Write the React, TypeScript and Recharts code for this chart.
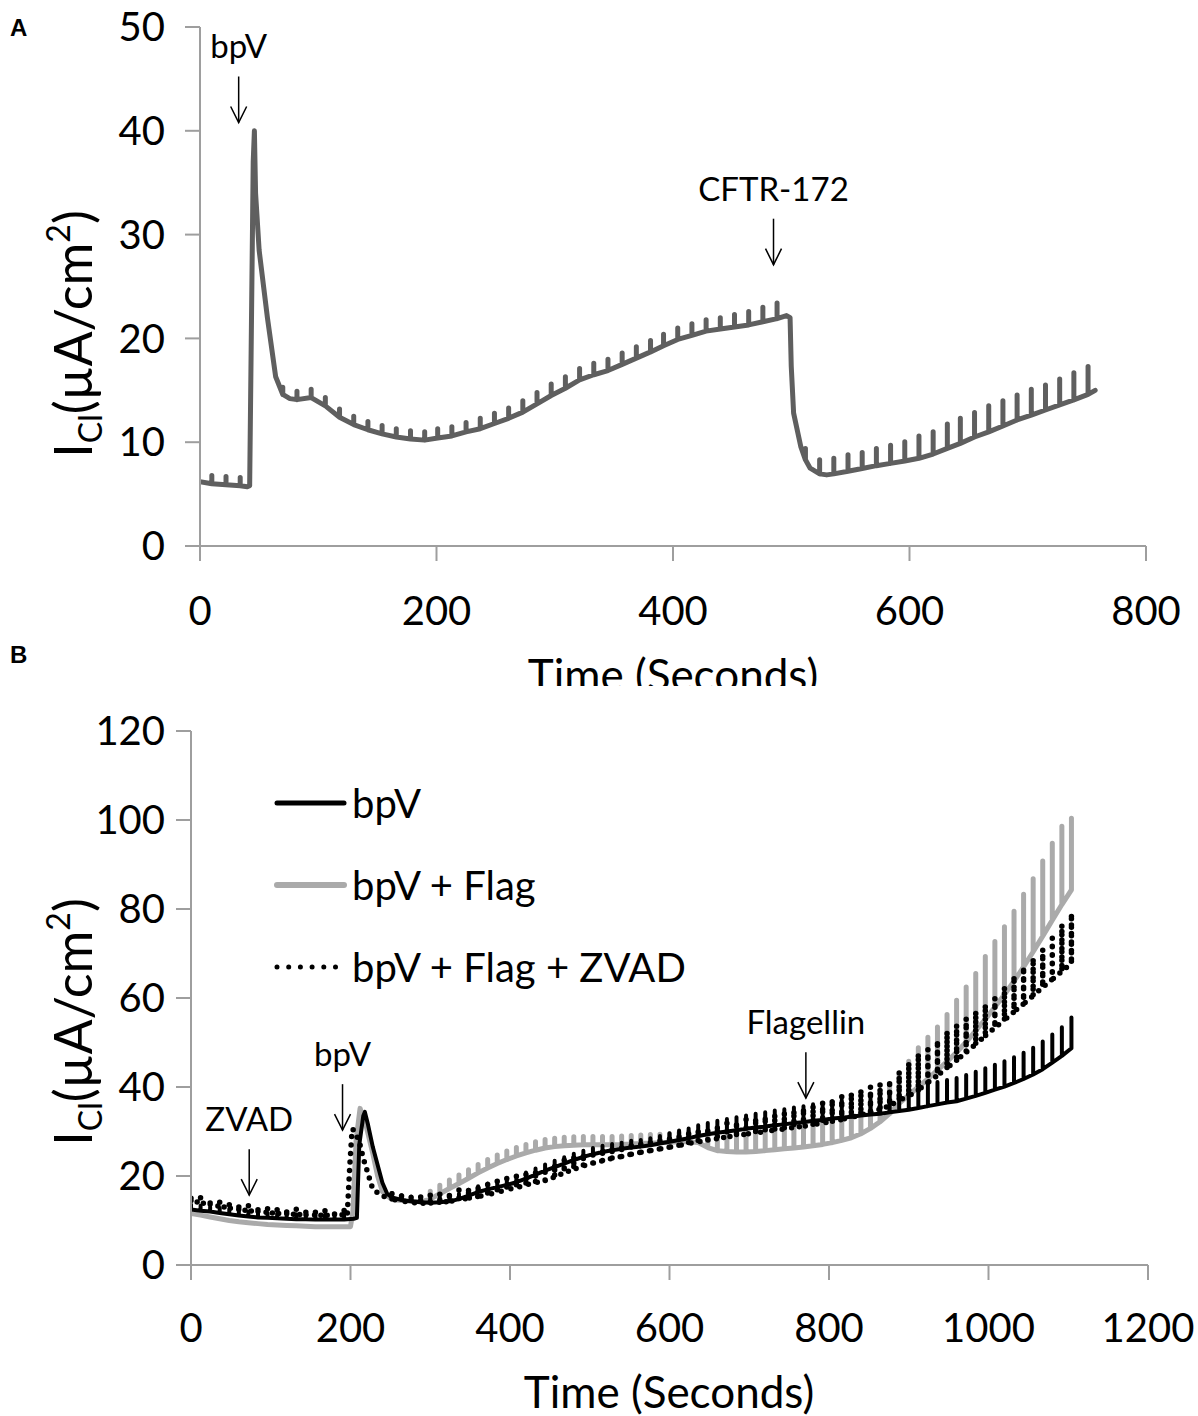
import React from "react";
import { Label, Legend, Line, LineChart, ReferenceDot, XAxis, YAxis } from "recharts";

const FONT = "Lato, 'Open Sans', sans-serif";
const AXIS = "#9e9e9e";

// ---- Panel A: single trace, spikes are the periodic voltage pulses ----
const timeA = [
  0, 10, 22, 34, 40, 42, 45, 46, 47, 50,
  57, 64, 70, 76, 82, 94, 106, 118, 130, 142,
  154, 166, 178, 190, 201, 213, 225, 237, 249, 261,
  273, 285, 297, 309, 321, 333, 345, 357, 369, 381,
  392, 404, 416, 428, 440, 452, 464, 476, 488, 496,
  499, 500, 502, 508, 512, 516, 524, 530, 536, 548,
  560, 572, 584, 596, 608, 620, 632, 643, 655, 667,
  679, 691, 703, 715, 727, 739, 751, 757,
];
const baseA = [
  6.2, 6.0, 5.9, 5.8, 5.7, 5.8, 37, 40, 34, 28.5,
  22, 16.3, 14.6, 14.2, 14.1, 14.3, 13.5, 12.4, 11.7, 11.2,
  10.8, 10.5, 10.3, 10.2, 10.4, 10.6, 11.0, 11.3, 11.8, 12.3,
  12.9, 13.7, 14.5, 15.2, 16.0, 16.5, 16.9, 17.5, 18.1, 18.7,
  19.3, 19.9, 20.3, 20.7, 20.9, 21.1, 21.3, 21.6, 21.9, 22.2,
  22.0, 17.3, 12.8, 9.6, 8.3, 7.5, 6.95, 6.85, 6.95, 7.2,
  7.47, 7.74, 7.96, 8.19, 8.45, 8.86, 9.41, 9.89, 10.5, 11.0,
  11.56, 12.14, 12.6, 13.1, 13.6, 14.07, 14.6, 15.0,
];
const topA = [
  null, 6.8, 6.7, 6.6, null, null, null, null, null, null,
  null, null, 15.3, null, 14.9, 15.1, 14.3, 13.2, 12.5, 12.0,
  11.6, 11.3, 11.1, 11.0, 11.3, 11.5, 11.9, 12.3, 12.8, 13.3,
  14.0, 14.8, 15.6, 16.3, 17.1, 17.6, 18.0, 18.6, 19.2, 19.8,
  20.4, 21.0, 21.4, 21.8, 22.0, 22.3, 22.6, 23.0, 23.4, null,
  null, null, null, null, 9.4, null, 8.3, null, 8.45, 8.8,
  9.0, 9.4, 9.7, 10.05, 10.6, 11.0, 11.75, 12.3, 12.85, 13.5,
  14.0, 14.55, 15.1, 15.5, 16.1, 16.7, 17.3, null,
];
const ticksAX = [0, 200, 400, 600, 800];
const ticksAY = [0, 10, 20, 30, 40, 50];

// ---- Panel B: three traces sampled at the pulse times ----
const timeB = [
  0, 12, 24, 36, 48, 60, 72, 84, 96, 108,
  120, 132, 144, 156, 168, 180, 192, 204, 216, 228,
  240, 252, 264, 276, 288, 300, 312, 324, 336, 348,
  360, 372, 384, 396, 408, 420, 432, 444, 456, 468,
  480, 492, 504, 516, 528, 540, 552, 564, 576, 588,
  600, 612, 624, 636, 648, 660, 672, 684, 696, 708,
  720, 732, 744, 756, 768, 780, 792, 804, 816, 828,
  840, 852, 864, 876, 888, 900, 912, 924, 936, 948,
  960, 972, 984, 996, 1008, 1020, 1032, 1044, 1056, 1068,
  1080, 1092, 1104,
];

const bpvBase = [
  12.5, 12.2, 12.0, 11.7, 11.4, 11.1, 10.9, 10.7, 10.6, 10.5,
  10.4, 10.3, 10.3, 10.2, 10.2, 10.2, 10.2, 10.4, 33.5, 26.5,
  18.5, 15.2, 14.6, 14.3, 14.1, 14.0, 14.1, 14.3, 14.8, 15.6,
  16.4, 17.0, 17.5, 18.0, 18.6, 19.4, 20.3, 21.2, 22.0, 22.8,
  23.6, 24.3, 24.9, 25.4, 25.8, 26.1, 26.4, 26.6, 26.9, 27.3,
  27.7, 28.1, 28.5, 29.0, 29.4, 29.7, 30.0, 30.3, 30.6, 30.9,
  31.1, 31.4, 31.6, 31.9, 32.1, 32.4, 32.6, 32.9, 33.1, 33.3,
  33.6, 33.8, 34.0, 34.3, 34.6, 34.9, 35.3, 35.7, 36.1, 36.5,
  36.8, 37.4, 38.0, 38.7, 39.4, 40.1, 40.9, 41.8, 42.8, 44.0,
  45.5, 47.0, 48.7,
];
const bpvTop = [
  13.6, 13.3, 13.1, 12.8, 12.5, 12.2, 12.0, 11.8, 11.7, 11.6,
  11.5, 11.4, 11.4, 11.3, 11.3, 11.3, 11.3, null, null, null,
  null, 16.2, 15.7, 15.4, 15.2, 15.1, 15.3, 15.5, 16.0, 16.9,
  17.7, 18.3, 18.8, 19.3, 19.9, 20.8, 21.7, 22.6, 23.4, 24.2,
  25.0, 25.7, 26.3, 26.8, 27.2, 27.5, 27.9, 28.1, 28.5, 29.0,
  29.6, 30.2, 30.7, 31.4, 31.9, 32.4, 32.8, 33.2, 33.6, 34.0,
  34.3, 34.7, 35.0, 35.4, 35.7, 36.1, 36.4, 36.8, 37.1, 37.4,
  37.8, 38.1, 38.4, 38.8, 39.2, 39.6, 40.1, 40.6, 41.1, 41.6,
  42.0, 42.7, 43.4, 44.2, 45.0, 45.8, 46.7, 47.7, 48.8, 50.2,
  51.8, 53.4, 55.6,
];
const bpvPeakT = [208, 211, 218, 222, 246];
const bpvPeakV = [10.6, 27, 34.4, 31.5, 16.0];

const flagBase = [
  11.6, 11.2, 10.8, 10.4, 10.0, 9.7, 9.5, 9.3, 9.1, 9.0,
  8.9, 8.8, 8.7, 8.6, 8.6, 8.6, 8.6, 16.0, 33.0, 25.0,
  16.5, 14.7, 14.5, 14.3, 14.2, 14.8, 16.0, 17.2, 18.3, 19.5,
  20.7, 21.8, 22.8, 23.7, 24.5, 25.2, 25.8, 26.3, 26.6, 26.8,
  26.9, 27.0, 27.0, 27.0, 27.0, 27.1, 27.2, 27.3, 27.4, 27.5,
  27.6, 27.7, 27.7, 27.5, 26.4, 25.7, 25.5, 25.4, 25.4, 25.5,
  25.7, 25.9, 26.1, 26.3, 26.5, 26.8, 27.1, 27.5, 28.0, 28.6,
  29.5, 30.7, 32.2, 34.0, 36.3, 38.2, 40.0, 41.8, 43.8, 45.7,
  47.8, 50.1, 52.7, 55.2, 58.0, 60.8, 63.8, 67.0, 70.4, 73.9,
  77.5, 81.0, 84.3,
];
const flagTop = [
  null, null, null, null, null, null, null, null, null, null,
  null, null, null, null, null, null, null, null, null, null,
  null, null, null, null, null, 16.6, 17.9, 19.1, 20.2, 21.4,
  22.6, 23.7, 24.7, 25.6, 26.4, 27.1, 27.7, 28.2, 28.5, 28.7,
  28.8, 28.9, 28.9, 28.9, 28.9, 29.0, 29.1, 29.2, 29.3, 29.4,
  29.5, 29.7, 29.9, 30.0, 30.0, 29.8, 29.7, 29.8, 29.9, 30.0,
  30.2, 30.4, 30.6, 30.9, 31.2, 31.6, 32.0, 32.5, 33.1, 33.8,
  34.8, 36.3, 38.5, 40.5, 42.8, 45.8, 48.8, 51.2, 53.5, 56.3,
  59.5, 62.5, 65.5, 69.3, 72.7, 76.0, 79.5, 83.3, 86.8, 90.8,
  94.8, 98.6, 100.4,
];
const flagPeakT = [200, 203, 207, 212, 220, 234];
const flagPeakV = [8.6, 12, 28, 35.2, 31, 20];

const zvadBase = [
  14.5, 14.0, 13.6, 13.2, 12.8, 12.5, 12.2, 12.0, 11.8, 11.6,
  11.5, 11.4, 11.3, 11.2, 11.2, 11.2, 11.3, 30.3, 24.0, 17.0,
  15.5, 14.8, 14.4, 14.0, 13.9, 13.9, 14.1, 14.3, 14.6, 15.0,
  15.4, 15.8, 16.3, 16.9, 17.4, 18.0, 18.5, 19.0, 19.8, 20.7,
  21.5, 22.3, 22.9, 23.4, 24.0, 24.4, 24.9, 25.3, 25.7, 26.1,
  26.5, 26.9, 27.3, 27.7, 28.1, 28.4, 28.8, 29.1, 29.4, 29.7,
  30.0, 30.3, 30.6, 30.9, 31.2, 31.5, 31.9, 32.3, 32.7, 33.2,
  33.7, 34.3, 35.0, 35.8, 37.0, 38.0, 39.3, 41.0, 42.6, 44.3,
  46.0, 47.8, 49.6, 51.5, 53.3, 55.1, 56.9, 58.7, 60.5, 62.4,
  64.2, 66.0, 67.8,
];
const zvadTop = [
  15.7, 15.2, 14.8, 14.4, 14.0, 13.7, 13.4, 13.2, 13.0, 12.8,
  12.7, 12.6, 12.5, 12.4, 12.4, 12.4, 12.5, null, null, null,
  null, 16.4, 16.1, 15.8, 15.8, 15.9, 16.2, 16.5, 16.9, 17.4,
  17.9, 18.4, 19.0, 19.6, 20.2, 20.8, 21.3, 21.9, 22.7, 23.6,
  24.4, 25.1, 25.7, 26.2, 26.7, 27.1, 27.6, 28.0, 28.4, 28.8,
  29.2, 29.5, 30.0, 30.5, 31.0, 31.4, 31.9, 32.3, 32.7, 33.1,
  33.5, 33.9, 34.3, 34.8, 35.3, 35.9, 36.6, 37.3, 38.0, 38.7,
  39.4, 40.1, 40.8, 41.6, 43.5, 45.5, 47.5, 48.5, 50.5, 52.5,
  54.0, 55.5, 57.0, 58.5, 60.0, 62.5, 65.0, 67.0, 69.0, 71.0,
  73.5, 76.5, 79.0,
];
const zvadPeakT = [196, 199, 202, 208, 212];
const zvadPeakV = [11.5, 22, 30.5, 29, 27];

const ticksBX = [0, 200, 400, 600, 800, 1000, 1200];
const ticksBY = [0, 20, 40, 60, 80, 100, 120];

// arrow tips in data units
const notesA = [
  { label: "bpV", t: 32.7, v: 40.8 },
  { label: "CFTR-172", t: 485, v: 27.1 },
];
const notesB = [
  { label: "ZVAD", t: 73, v: 15.7 },
  { label: "bpV", t: 190, v: 30.3 },
  { label: "Flagellin", t: 771, v: 37.5 },
];

type Pt = { t: number; v: number };

// each pulse is drawn as the trace going straight up to its top and back
function traceRows(
  times: number[],
  base: number[],
  tops: (number | null)[],
  extraT: number[] = [],
  extraV: number[] = []
): Pt[] {
  const groups = times.map((t, i) => {
    const rows: Pt[] = [{ t, v: base[i] }];
    const top = tops[i];
    if (top != null) rows.push({ t, v: top }, { t, v: base[i] });
    return { t, rows };
  });
  extraT.forEach((t, i) => groups.push({ t, rows: [{ t, v: extraV[i] }] }));
  groups.sort((a, b) => a.t - b.t);
  return groups.flatMap((g) => g.rows);
}

const dataA = traceRows(timeA, baseA, topA);

const seriesB = [
  { name: "bpV", data: traceRows(timeB, bpvBase, bpvTop, bpvPeakT, bpvPeakV), color: "#000000", width: 4, dash: undefined as string | undefined, legendDash: undefined as string | undefined },
  { name: "bpV + Flag", data: traceRows(timeB, flagBase, flagTop, flagPeakT, flagPeakV), color: "#aaaaaa", width: 5, dash: undefined, legendDash: undefined },
  { name: "bpV + Flag + ZVAD", data: traceRows(timeB, zvadBase, zvadTop, zvadPeakT, zvadPeakV), color: "#000000", width: 5.5, dash: "0 8.5", legendDash: "0 11.7" },
];
// draw order: grey underneath, then solid black, dotted on top
const drawOrder = [1, 0, 2];

const tickStyle = { fill: "#000", fontSize: 40, fontFamily: FONT };

function Arrow(props: any) {
  const { cx, cy, text } = props;
  if (cx == null || cy == null) return null;
  return (
    <g>
      <text x={cx} y={cy - 64} textAnchor="middle" fontSize={33} fontFamily={FONT} fill="#000">
        {text}
      </text>
      <line x1={cx} y1={cy - 46} x2={cx} y2={cy} stroke="#000" strokeWidth={1.5} />
      <polyline
        points={`${cx - 8},${cy - 16} ${cx},${cy} ${cx + 8},${cy - 16}`}
        fill="none"
        stroke="#000"
        strokeWidth={1.5}
      />
    </g>
  );
}

function yTitle(x: number, y: number) {
  return () => (
    <text
      x={x}
      y={y}
      transform={`rotate(-90, ${x}, ${y})`}
      textAnchor="middle"
      fontSize={52}
      fontFamily={FONT}
      fill="#000"
    >
      I
      <tspan fontSize={32} dy={10}>Cl</tspan>
      <tspan dy={-10}>(µA/cm</tspan>
      <tspan fontSize={32} dy={-22}>2</tspan>
      <tspan dy={22}>)</tspan>
    </text>
  );
}

function xTitle(x: number, y: number) {
  return () => (
    <text x={x} y={y} textAnchor="middle" fontSize={44} fontFamily={FONT} fill="#000">
      Time (Seconds)
    </text>
  );
}

function LegendB() {
  return (
    <div style={{ fontFamily: FONT, fontSize: 40, color: "#000", lineHeight: 1 }}>
      {seriesB.map((s) => (
        <div key={s.name} style={{ display: "flex", alignItems: "center", height: 82 }}>
          <svg width={78} height={20} style={{ display: "block" }}>
            <line
              x1={3}
              y1={10}
              x2={70}
              y2={10}
              stroke={s.color}
              strokeWidth={s.legendDash ? 5 : s.width + 1}
              strokeDasharray={s.legendDash}
              strokeLinecap="round"
            />
          </svg>
          <span>{s.name}</span>
        </div>
      ))}
    </div>
  );
}

const panelLabel: React.CSSProperties = {
  position: "absolute",
  left: 10,
  fontFamily: "'Liberation Sans', Arial, sans-serif",
  fontWeight: 700,
  fontSize: 24,
};

export default function App() {
  return (
    <div style={{ position: "relative", width: 1198, height: 1416, background: "#fff", overflow: "hidden" }}>
      <style>{"body{margin:0}"}</style>

      <div style={{ position: "absolute", left: 0, top: 0, width: 1198, height: 686, overflow: "hidden" }}>
        <LineChart width={1198} height={720} margin={{ top: 27, right: 52, bottom: 0, left: 0 }}>
          <XAxis
            dataKey="t"
            type="number"
            domain={[0, 800]}
            ticks={ticksAX}
            height={174}
            tickSize={15}
            tickMargin={36}
            tick={tickStyle}
            axisLine={{ stroke: AXIS, strokeWidth: 2 }}
            tickLine={{ stroke: AXIS, strokeWidth: 2 }}
            allowDataOverflow
          >
            <Label content={xTitle(673, 691)} />
          </XAxis>
          <YAxis
            type="number"
            domain={[0, 50]}
            ticks={ticksAY}
            width={200}
            tickSize={15}
            tickMargin={20}
            tick={tickStyle}
            axisLine={{ stroke: AXIS, strokeWidth: 2 }}
            tickLine={{ stroke: AXIS, strokeWidth: 2 }}
            allowDataOverflow
          >
            <Label content={yTitle(92, 334)} />
          </YAxis>
          <Line
            data={dataA}
            dataKey="v"
            type="linear"
            stroke="#5f5f5f"
            strokeWidth={5}
            strokeLinejoin="round"
            strokeLinecap="round"
            dot={false}
            activeDot={false}
            isAnimationActive={false}
          />
          {notesA.map((n) => (
            <ReferenceDot
              key={n.label}
              x={n.t}
              y={n.v}
              r={0}
              ifOverflow="visible"
              shape={(p: any) => <Arrow {...p} text={n.label} />}
            />
          ))}
        </LineChart>
      </div>

      <div style={{ position: "absolute", left: 0, top: 686, width: 1198, height: 730 }}>
        <LineChart width={1198} height={730} margin={{ top: 45, right: 50, bottom: 0, left: 0 }}>
          <XAxis
            dataKey="t"
            type="number"
            domain={[0, 1200]}
            ticks={ticksBX}
            height={151}
            tickSize={15}
            tickMargin={34}
            tick={tickStyle}
            axisLine={{ stroke: AXIS, strokeWidth: 2 }}
            tickLine={{ stroke: AXIS, strokeWidth: 2 }}
            allowDataOverflow
          >
            <Label content={xTitle(669, 722)} />
          </XAxis>
          <YAxis
            type="number"
            domain={[0, 120]}
            ticks={ticksBY}
            width={191}
            tickSize={15}
            tickMargin={11}
            tick={tickStyle}
            axisLine={{ stroke: AXIS, strokeWidth: 2 }}
            tickLine={{ stroke: AXIS, strokeWidth: 2 }}
            allowDataOverflow
          >
            <Label content={yTitle(92, 336)} />
          </YAxis>
          {drawOrder.map((i) => {
            const s = seriesB[i];
            return (
              <Line
                key={s.name}
                name={s.name}
                data={s.data}
                dataKey="v"
                type="linear"
                stroke={s.color}
                strokeWidth={s.width}
                strokeDasharray={s.dash}
                strokeLinejoin="round"
                strokeLinecap="round"
                dot={false}
                activeDot={false}
                isAnimationActive={false}
              />
            );
          })}
          {notesB.map((n) => (
            <ReferenceDot
              key={n.label}
              x={n.t}
              y={n.v}
              r={0}
              ifOverflow="visible"
              shape={(p: any) => <Arrow {...p} text={n.label} />}
            />
          ))}
          <Legend
            layout="horizontal"
            verticalAlign="middle"
            align="center"
            content={() => <LegendB />}
            wrapperStyle={{ position: "absolute", left: 274, top: 76, width: 520 }}
          />
        </LineChart>
      </div>

      <div style={{ ...panelLabel, top: 14 }}>A</div>
      <div style={{ ...panelLabel, top: 641 }}>B</div>
    </div>
  );
}
